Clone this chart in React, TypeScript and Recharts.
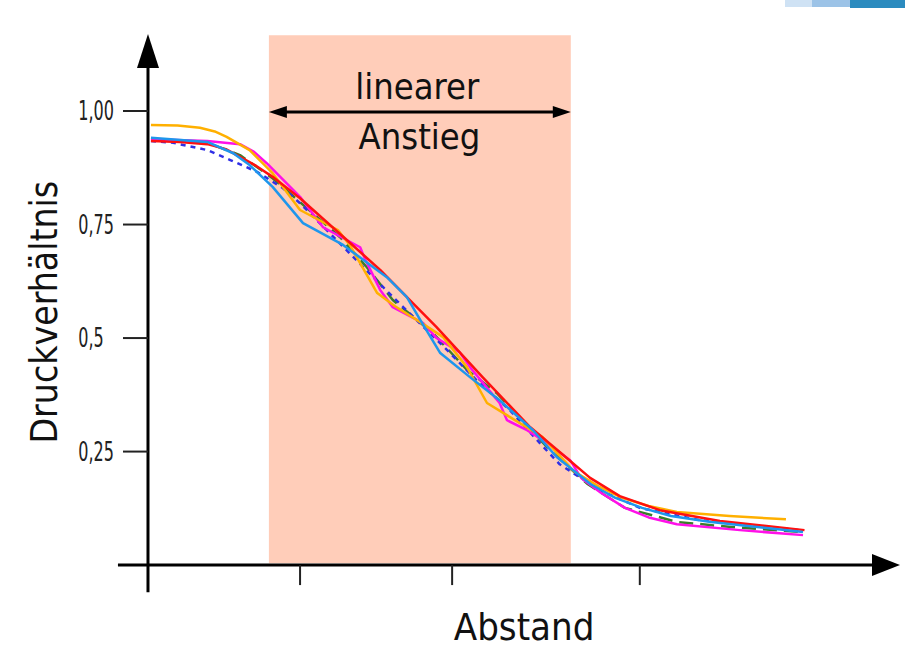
import React from "react";
import {
  LineChart,
  Line,
  XAxis,
  YAxis,
  ReferenceArea,
  ReferenceLine,
  ReferenceDot,
} from "recharts";

// ---- data (x: Abstand, beliebige Einheit 0..100; y: Druckverhältnis) ----

const redCurve = [
  { x: 0.4, y: 0.934 }, { x: 4.3, y: 0.932 }, { x: 8.0, y: 0.927 }, { x: 10.5, y: 0.916 },
  { x: 12.4, y: 0.899 }, { x: 14.6, y: 0.879 }, { x: 16.8, y: 0.855 }, { x: 20.5, y: 0.808 },
  { x: 26.8, y: 0.716 }, { x: 31.3, y: 0.65 }, { x: 35.7, y: 0.577 }, { x: 38.9, y: 0.524 },
  { x: 45.1, y: 0.414 }, { x: 51.5, y: 0.304 }, { x: 55.5, y: 0.249 }, { x: 59.6, y: 0.192 },
  { x: 63.6, y: 0.152 }, { x: 69.0, y: 0.121 }, { x: 77.1, y: 0.097 }, { x: 88.5, y: 0.077 },
];

const orangeCurve = [
  { x: 0.4, y: 0.969 }, { x: 4.0, y: 0.968 }, { x: 7.0, y: 0.963 }, { x: 9.0, y: 0.955 },
  { x: 10.6, y: 0.943 }, { x: 13.7, y: 0.914 }, { x: 16.8, y: 0.863 }, { x: 20.5, y: 0.782 },
  { x: 25.6, y: 0.738 }, { x: 27.2, y: 0.705 }, { x: 30.9, y: 0.599 }, { x: 33.3, y: 0.57 },
  { x: 36.7, y: 0.535 }, { x: 39.8, y: 0.502 }, { x: 43.0, y: 0.436 }, { x: 45.7, y: 0.357 },
  { x: 48.8, y: 0.326 }, { x: 53.2, y: 0.282 }, { x: 57.4, y: 0.207 }, { x: 60.9, y: 0.172 },
  { x: 63.9, y: 0.148 }, { x: 67.5, y: 0.13 }, { x: 71.3, y: 0.117 }, { x: 78.4, y: 0.108 },
  { x: 86.0, y: 0.101 },
];

const magentaCurve = [
  { x: 0.4, y: 0.938 }, { x: 8.0, y: 0.934 }, { x: 12.4, y: 0.927 }, { x: 14.3, y: 0.91 },
  { x: 16.0, y: 0.885 }, { x: 20.5, y: 0.811 }, { x: 23.6, y: 0.744 }, { x: 28.6, y: 0.7 },
  { x: 29.2, y: 0.676 }, { x: 31.3, y: 0.606 }, { x: 33.0, y: 0.568 }, { x: 37.1, y: 0.533 },
  { x: 38.9, y: 0.5 }, { x: 42.0, y: 0.469 }, { x: 43.4, y: 0.436 }, { x: 47.4, y: 0.357 },
  { x: 48.4, y: 0.319 }, { x: 51.1, y: 0.297 }, { x: 53.8, y: 0.269 }, { x: 56.9, y: 0.231 },
  { x: 58.4, y: 0.192 }, { x: 61.0, y: 0.16 }, { x: 64.3, y: 0.126 }, { x: 67.5, y: 0.105 },
  { x: 71.3, y: 0.09 }, { x: 79.8, y: 0.077 }, { x: 88.3, y: 0.066 },
];

const blueCurve = [
  { x: 0.4, y: 0.941 }, { x: 8.0, y: 0.932 }, { x: 11.5, y: 0.907 }, { x: 13.7, y: 0.881 },
  { x: 16.8, y: 0.833 }, { x: 20.9, y: 0.753 }, { x: 26.3, y: 0.705 }, { x: 32.2, y: 0.634 },
  { x: 34.9, y: 0.59 }, { x: 36.7, y: 0.54 }, { x: 39.4, y: 0.467 }, { x: 43.4, y: 0.414 },
  { x: 47.4, y: 0.363 }, { x: 51.9, y: 0.297 }, { x: 55.1, y: 0.238 }, { x: 59.7, y: 0.178 },
  { x: 63.0, y: 0.148 }, { x: 66.6, y: 0.126 }, { x: 70.5, y: 0.108 }, { x: 75.9, y: 0.095 },
  { x: 88.3, y: 0.073 },
];

const greenCurve = [
  { x: 0.4, y: 0.936 }, { x: 8.0, y: 0.93 }, { x: 12.4, y: 0.903 }, { x: 16.8, y: 0.852 },
  { x: 22.2, y: 0.775 }, { x: 25.9, y: 0.722 }, { x: 29.5, y: 0.656 }, { x: 33.0, y: 0.584 },
  { x: 38.4, y: 0.511 }, { x: 43.0, y: 0.43 }, { x: 47.0, y: 0.379 }, { x: 54.2, y: 0.253 },
  { x: 59.3, y: 0.178 }, { x: 64.3, y: 0.126 }, { x: 71.3, y: 0.095 }, { x: 78.6, y: 0.084 },
  { x: 87.9, y: 0.073 },
];

const navyCurve = [
  { x: 0.4, y: 0.934 }, { x: 3.4, y: 0.93 }, { x: 8.0, y: 0.914 }, { x: 11.1, y: 0.892 },
  { x: 14.7, y: 0.866 }, { x: 18.2, y: 0.83 }, { x: 20.5, y: 0.797 }, { x: 24.5, y: 0.731 },
  { x: 31.7, y: 0.612 }, { x: 34.4, y: 0.568 }, { x: 40.3, y: 0.474 }, { x: 44.3, y: 0.407 },
  { x: 48.8, y: 0.341 }, { x: 52.8, y: 0.269 }, { x: 55.5, y: 0.222 }, { x: 60.9, y: 0.165 },
  { x: 66.3, y: 0.126 }, { x: 74.4, y: 0.099 }, { x: 87.9, y: 0.077 },
];

const yTicks = [1.0, 0.75, 0.5, 0.25];
const yTickLabels = ["1,00", "0,75", "0,5", "0,25"];
const xTicks = [20.5, 41.0, 66.3];

// linearer Bereich
const linearFrom = 16.3;
const linearTo = 57.0;

const FONT = "'DejaVu Sans Condensed', 'DejaVu Sans', sans-serif";

const upArrow = ({ cx, cy }: any) => (
  <path d={`M${cx},${cy - 34} L${cx - 11},${cy} L${cx + 11},${cy} Z`} fill="#000" />
);
const rightArrow = ({ cx, cy }: any) => (
  <path d={`M${cx + 28},${cy} L${cx},${cy - 11} L${cx},${cy + 11} Z`} fill="#000" />
);
const smallLeft = ({ cx, cy }: any) => (
  <path d={`M${cx},${cy} L${cx + 18},${cy - 6} L${cx + 18},${cy + 6} Z`} fill="#000" />
);
const smallRight = ({ cx, cy }: any) => (
  <path d={`M${cx},${cy} L${cx - 18},${cy - 6} L${cx - 18},${cy + 6} Z`} fill="#000" />
);

const textShape =
  (value: string, size: number, rotate = false) =>
  ({ cx, cy }: any) => (
    <text
      x={cx}
      y={cy}
      textAnchor="middle"
      transform={rotate ? `rotate(-90, ${cx}, ${cy})` : undefined}
      fontFamily={FONT}
      fontSize={size}
      fill="#111"
    >
      {value}
    </text>
  );

// schmale Zahlen an der y-Achse
const tickText =
  (value: string) =>
  ({ cx, cy }: any) => (
    <text
      x={0}
      y={0}
      transform={`translate(${cx}, ${cy}) scale(0.66, 1)`}
      textAnchor="start"
      dominantBaseline="central"
      fontFamily={FONT}
      fontSize={27}
      fill="#222"
    >
      {value}
    </text>
  );

const series = [
  { data: greenCurve, color: "#3B7D2A", dash: "14 7" },
  { data: navyCurve, color: "#2F2FE6", dash: "5 5" },
  { data: magentaCurve, color: "#FF10E8", dash: undefined },
  { data: orangeCurve, color: "#FFB000", dash: undefined },
  { data: redCurve, color: "#FF1010", dash: undefined },
  { data: blueCurve, color: "#1E96EC", dash: undefined },
];

export default function App() {
  return (
    <div style={{ position: "absolute", left: 0, top: 0, width: 905, height: 655, background: "#fff" }}>
      {/* Reste eines Nachbarbildes oben rechts */}
      <div style={{ position: "absolute", left: 785, top: 0, width: 27, height: 7, background: "#CFE2F4" }} />
      <div style={{ position: "absolute", left: 812, top: 0, width: 38, height: 7, background: "#9CC3E7" }} />
      <div style={{ position: "absolute", left: 850, top: 0, width: 55, height: 8, background: "#2B8BBF" }} />

      <LineChart width={905} height={655} margin={{ top: 0, right: 0, bottom: 0, left: 0 }}>
        <XAxis type="number" dataKey="x" domain={[-19.95, 102.05]} hide allowDataOverflow />
        <YAxis type="number" domain={[-0.198, 1.2445]} hide allowDataOverflow />

        <ReferenceArea
          x1={linearFrom}
          x2={linearTo}
          y1={0.004}
          y2={1.167}
          fill="#FFCDB9"
          fillOpacity={1}
          stroke="none"
        />

        {series.map((s, i) => (
          <Line
            key={i}
            data={s.data}
            dataKey="y"
            type="linear"
            stroke={s.color}
            strokeWidth={2.5}
            strokeLinejoin="round"
            strokeDasharray={s.dash}
            dot={false}
            activeDot={false}
            isAnimationActive={false}
          />
        ))}

        {/* Achsen */}
        <ReferenceLine segment={[{ x: -4.05, y: 0 }, { x: 97.6, y: 0 }]} stroke="#000" strokeWidth={3} />
        <ReferenceLine segment={[{ x: 0, y: -0.06 }, { x: 0, y: 1.095 }]} stroke="#000" strokeWidth={3} />
        <ReferenceDot x={97.6} y={0} r={0} shape={rightArrow} />
        <ReferenceDot x={0} y={1.095} r={0} shape={upArrow} />

        {yTicks.map((v, i) => (
          <ReferenceLine
            key={"yt" + i}
            segment={[{ x: -3.37, y: v }, { x: 0, y: v }]}
            stroke="#222"
            strokeWidth={2}
          />
        ))}
        {yTicks.map((v, i) => (
          <ReferenceDot key={"yl" + i} x={-9.4} y={v} r={0} shape={tickText(yTickLabels[i])} />
        ))}
        {xTicks.map((v, i) => (
          <ReferenceLine
            key={"xt" + i}
            segment={[{ x: v, y: 0 }, { x: v, y: -0.044 }]}
            stroke="#222"
            strokeWidth={2}
          />
        ))}

        {/* Doppelpfeil linearer Anstieg */}
        <ReferenceLine
          segment={[{ x: linearFrom + 1.5, y: 0.998 }, { x: linearTo - 1.5, y: 0.998 }]}
          stroke="#000"
          strokeWidth={3}
        />
        <ReferenceDot x={linearFrom} y={0.998} r={0} shape={smallLeft} />
        <ReferenceDot x={linearTo} y={0.998} r={0} shape={smallRight} />
        <ReferenceDot x={36.3} y={1.026} r={0} shape={textShape("linearer", 36)} />
        <ReferenceDot x={36.6} y={0.916} r={0} shape={textShape("Anstieg", 36)} />

        {/* Achsentitel */}
        <ReferenceDot x={50.7} y={-0.165} r={0} shape={textShape("Abstand", 38)} />
        <ReferenceDot x={-12.3} y={0.557} r={0} shape={textShape("Druckverhältnis", 37, true)} />
      </LineChart>
    </div>
  );
}
